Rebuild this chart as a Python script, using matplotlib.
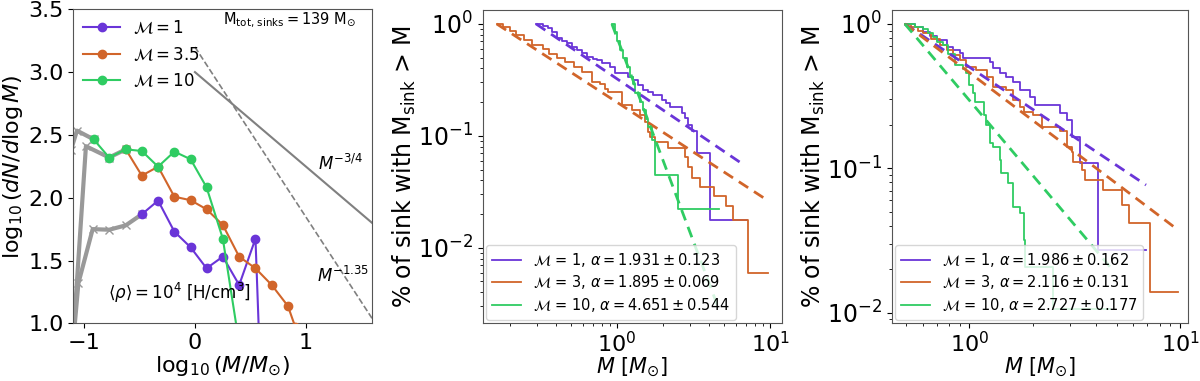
import matplotlib
matplotlib.use("Agg")
import matplotlib.pyplot as plt

# ---------------- data ----------------
# panel 1: mass function, log10(M/Msun) vs log10(dN/dlogM)
m1_logm = [-0.48, -0.333, -0.186, -0.039, 0.105, 0.252, 0.40, 0.547, 0.577]
m1_val = [1.868, 1.977, 1.73, 1.605, 1.438, 1.531, 1.305, 1.674, 0.95]
m1_gray_logm = [-1.10, -1.053, -0.924, -0.775, -0.625, -0.48]
m1_gray_val = [0.85, 1.32, 1.75, 1.745, 1.78, 1.868]

m35_logm = [-0.625, -0.48, -0.333, -0.186, -0.039, 0.105, 0.252, 0.40, 0.547, 0.694, 0.84, 0.907]
m35_val = [2.385, 2.176, 2.247, 2.008, 1.98, 1.908, 1.783, 1.53, 1.438, 1.305, 1.138, 0.97]
m35_gray_logm = [-1.095, -0.985, -0.775, -0.625]
m35_gray_val = [0.95, 2.41, 2.32, 2.385]

m10_logm = [-0.916, -0.775, -0.625, -0.48, -0.333, -0.186, -0.039, 0.105, 0.252, 0.38]
m10_val = [2.465, 2.32, 2.385, 2.372, 2.247, 2.367, 2.306, 2.083, 1.674, 0.95]
m10_gray_logm = [-1.12, -1.066, -0.916]
m10_gray_val = [2.38, 2.534, 2.465]

ref_logm = [0.0, 1.6]
ref_34 = [3.0, 1.8]
ref_135 = [3.2, 1.04]

# panel 2: cumulative fraction (step knots)
p2_m1_mass = [0.298, 0.33, 0.358, 0.38, 0.406, 0.44, 0.472, 0.51, 0.548, 0.59, 0.637, 0.70, 0.741,
              0.80, 0.905, 0.975, 1.19, 1.28, 1.38, 1.49, 1.6, 1.73, 1.97, 2.1, 2.23, 2.65, 2.79,
              2.93, 3.08, 3.33, 4.06, 7.05]
p2_m1_frac = [1.0, 0.95, 0.915, 0.85, 0.75, 0.70, 0.67, 0.62, 0.585, 0.55, 0.51, 0.49, 0.476,
              0.445, 0.41, 0.362, 0.335, 0.316, 0.285, 0.257, 0.245, 0.232, 0.209, 0.195, 0.18,
              0.16, 0.143, 0.125, 0.11, 0.0697, 0.0176, 0.0176]
p2_m3_mass = [0.165, 0.18, 0.20, 0.22, 0.25, 0.28, 0.33, 0.36, 0.41, 0.462, 0.53, 0.594, 0.69,
              0.78, 0.843, 0.88, 1.08, 1.25, 1.42, 1.53, 1.61, 1.65, 1.78, 2.17, 2.79, 2.93, 3.08,
              3.5, 4.3, 5.2, 5.77, 7.21, 9.75]
p2_m3_frac = [1.0, 0.94, 0.87, 0.80, 0.72, 0.645, 0.60, 0.543, 0.50, 0.457, 0.41, 0.372, 0.303,
              0.29, 0.26, 0.245, 0.19, 0.17, 0.154, 0.134, 0.109, 0.098, 0.0886, 0.0773, 0.065,
              0.0529, 0.0418, 0.0351, 0.029, 0.0237, 0.0176, 0.00589, 0.00589]
p2_m10_mass = [0.93, 0.97, 1.0, 1.05, 1.10, 1.16, 1.22, 1.27, 1.32, 1.42, 1.49, 1.55, 1.61, 1.69,
               1.78, 2.52, 4.67]
p2_m10_frac = [1.0, 0.85, 0.70, 0.585, 0.50, 0.415, 0.338, 0.29, 0.24, 0.202, 0.17, 0.14, 0.12,
               0.092, 0.0445, 0.0224, 0.0224]
p2_fit_m1 = ([0.298, 6.63], [1.0, 0.0559])
p2_fit_m3 = ([0.165, 9.43], [1.0, 0.027])
p2_fit_m10 = ([0.93, 4.67], [1.0, 0.00274])
p2_labels = [r'$\mathcal{M}$ = 1, $\alpha = 1.931 \pm 0.123$',
             r'$\mathcal{M}$ = 3, $\alpha = 1.895 \pm 0.069$',
             r'$\mathcal{M}$ = 10, $\alpha = 4.651 \pm 0.544$']

# panel 3
p3_m1_mass = [0.495, 0.55, 0.6, 0.65, 0.7, 0.78, 0.84, 0.903, 0.937, 1.25, 1.3, 1.4, 1.5, 1.62,
              1.74, 1.94, 2.05, 2.69, 2.9, 3.06, 3.35, 4.07, 4.1, 6.9]
p3_m1_frac = [1.0, 0.95, 0.88, 0.82, 0.775, 0.696, 0.66, 0.626, 0.578, 0.548, 0.494, 0.455, 0.43,
              0.398, 0.349, 0.314, 0.275, 0.24, 0.216, 0.166, 0.108, 0.054, 0.0271, 0.0271]
p3_m3_mass = [0.495, 0.53, 0.57, 0.605, 0.66, 0.726, 0.78, 0.84, 0.9, 0.97, 1.08, 1.21, 1.3, 1.5,
              1.62, 1.74, 1.81, 2.01, 2.21, 2.69, 2.9, 3.06, 3.12, 3.42, 3.54, 4.32, 5.28, 5.7,
              7.2, 9.82]
p3_m3_frac = [1.0, 0.95, 0.90, 0.862, 0.79, 0.715, 0.66, 0.61, 0.56, 0.506, 0.48, 0.432, 0.368,
              0.349, 0.298, 0.267, 0.247, 0.235, 0.194, 0.18, 0.141, 0.13, 0.111, 0.097, 0.083,
              0.0706, 0.0558, 0.0418, 0.0139, 0.0139]
p3_m10_mass = [0.495, 0.55, 0.6, 0.64, 0.675, 0.7, 0.753, 0.795, 0.855, 0.937, 0.97, 1.0, 1.04,
               1.06, 1.17, 1.2, 1.25, 1.3, 1.4, 1.42, 1.53, 1.62, 1.74, 1.81, 1.84, 2.5, 4.65]
p3_m10_frac = [1.0, 0.95, 0.92, 0.86, 0.817, 0.75, 0.72, 0.62, 0.52, 0.49, 0.455, 0.376, 0.33,
               0.288, 0.233, 0.20, 0.15, 0.141, 0.114, 0.0925, 0.079, 0.054, 0.0487, 0.0318,
               0.0208, 0.0106, 0.0106]
p3_fit_m1 = ([0.495, 6.9], [1.0, 0.0766])
p3_fit_m3 = ([0.495, 9.82], [1.0, 0.0373])
p3_fit_m10 = ([0.495, 4.65], [1.0, 0.0208])
p3_labels = [r'$\mathcal{M}$ = 1, $\alpha = 1.986 \pm 0.162$',
             r'$\mathcal{M}$ = 3, $\alpha = 2.116 \pm 0.131$',
             r'$\mathcal{M}$ = 10, $\alpha = 2.727 \pm 0.177$']

# ---------------- style ----------------
c_purple = '#6a35d8'
c_orange = '#d1652a'
c_green = '#2fcc62'
c_gray = '#999999'
spine_col = '#555555'

fig = plt.figure(figsize=(12, 3.81), dpi=100)
ax1 = fig.add_axes([0.061, 0.1514, 0.249, 0.8242])
ax2 = fig.add_axes([0.4023, 0.1514, 0.2491, 0.8224])
ax3 = fig.add_axes([0.7431, 0.1514, 0.2467, 0.8224])

for ax in (ax1, ax2, ax3):
    for s in ax.spines.values():
        s.set_edgecolor(spine_col)

# ---- panel 1 ----
for gx, gy in [(m1_gray_logm, m1_gray_val), (m35_gray_logm, m35_gray_val), (m10_gray_logm, m10_gray_val)]:
    ax1.plot(gx, gy, color=c_gray, lw=3, marker='x', ms=6, zorder=2)
ax1.plot(m1_logm, m1_val, color=c_purple, lw=1.5, marker='o', ms=6, label=r'$\mathcal{M} = 1$', zorder=3)
ax1.plot(m35_logm, m35_val, color=c_orange, lw=1.5, marker='o', ms=6, label=r'$\mathcal{M} = 3.5$', zorder=3)
ax1.plot(m10_logm, m10_val, color=c_green, lw=1.5, marker='o', ms=6, label=r'$\mathcal{M} = 10$', zorder=3)
ax1.plot(ref_logm, ref_34, color='gray', lw=1.5)
ax1.plot(ref_logm, ref_135, color='gray', lw=1.2, ls='--')
ax1.text(1.11, 2.27, r'$M^{-3/4}$', fontsize=12, ha='left', va='center')
ax1.text(1.10, 1.38, r'$M^{-1.35}$', fontsize=12, ha='left', va='center')
ax1.text(0.25, 3.41, r'$\rm M_{tot,\,sinks} = 139\ M_{\odot}$', fontsize=10.5, ha='left', va='center')
ax1.text(-0.79, 1.24, r'$\langle\rho\rangle = 10^4$ [H/cm$^3$]', fontsize=12, ha='left', va='center')
ax1.set_xlim(-1.1, 1.6)
ax1.set_ylim(1.0, 3.5)
ax1.set_xticks([-1, 0, 1])
ax1.set_yticks([1.0, 1.5, 2.0, 2.5, 3.0, 3.5])
ax1.tick_params(labelsize=16)
ax1.set_xlabel(r'$\log_{10}(M/M_{\odot})$', fontsize=16, labelpad=1)
ax1.set_ylabel(r'$\log_{10}(dN/d\log M)$', fontsize=16, labelpad=2)
ax1.legend(loc='upper left', fontsize=12, frameon=False, handlelength=2.2,
           borderaxespad=0.2, labelspacing=0.5)


def cdf_panel(ax, curves, fits, labels, ylim):
    cols = [c_purple, c_orange, c_green]
    for (mx, fy), col, lab in zip(curves, cols, labels):
        ax.plot(mx, fy, color=col, lw=1.3, drawstyle='steps-post', label=lab)
    for (fx, fy), col in zip(fits, cols):
        ax.plot(fx, fy, color=col, lw=2, ls=(0, (4, 2.5)))
    ax.set_xscale('log')
    ax.set_yscale('log')
    ax.set_ylim(*ylim)
    ax.tick_params(axis='y', labelsize=17)
    ax.tick_params(axis='x', labelsize=16, pad=2)
    ax.set_xlabel(r'$M\ [M_{\odot}]$', fontsize=15, labelpad=0)
    ax.set_ylabel(r'% of sink with $\rm M_{sink}$ > M', fontsize=17, labelpad=0)
    ax.legend(loc='lower left', fontsize=10.5, handlelength=2.0, borderaxespad=0.25,
              labelspacing=0.3)


cdf_panel(ax2,
          [(p2_m1_mass, p2_m1_frac), (p2_m3_mass, p2_m3_frac), (p2_m10_mass, p2_m10_frac)],
          [p2_fit_m1, p2_fit_m3, p2_fit_m10], p2_labels, (10 ** -2.676, 10 ** 0.125))
ax2.set_xlim(10 ** -0.874, 10 ** 1.076)

cdf_panel(ax3,
          [(p3_m1_mass, p3_m1_frac), (p3_m3_mass, p3_m3_frac), (p3_m10_mass, p3_m10_frac)],
          [p3_fit_m1, p3_fit_m3, p3_fit_m10], p3_labels, (10 ** -2.074, 10 ** 0.097))
ax3.set_xlim(10 ** -0.368, 10 ** 1.037)

fig.savefig('out.png', dpi=100)
